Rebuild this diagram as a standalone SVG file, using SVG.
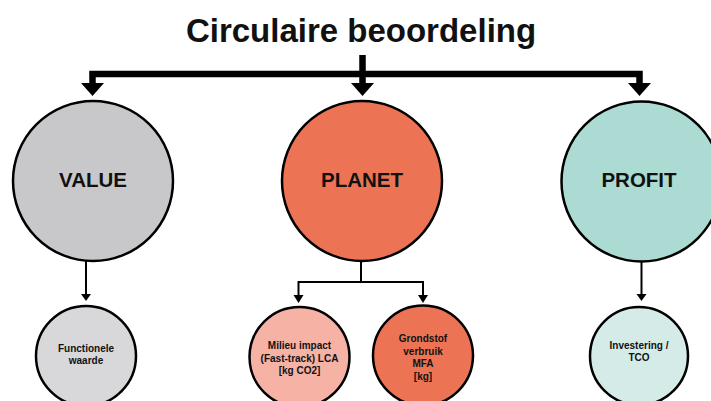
<svg xmlns="http://www.w3.org/2000/svg" width="711" height="401" viewBox="0 0 711 401">
<style>
.t{font-family:"Liberation Sans",Arial,sans-serif;font-weight:bold;fill:#111;text-anchor:middle}
.s{font-size:10px}
.big{stroke:#000;stroke-width:2.5}
.sm{stroke:#000;stroke-width:2.5}
.thick{fill:none;stroke:#000;stroke-width:6.5}
.thin{fill:none;stroke:#000;stroke-width:2}
</style>
<rect width="711" height="401" fill="#fff"/>
<text class="t" x="361" y="42" font-size="33">Circulaire beoordeling</text>
<g id="connectors">
<path class="thick" d="M362.5 55 V86 M92.5 86 V74 H639.5 V86"/>
<polygon points="81,83 104,83 92.5,96"/>
<polygon points="351,83 374,83 362.5,96"/>
<polygon points="628,83 651,83 639.5,96"/>
<path class="thin" d="M86 261 V296"/>
<polygon points="81,294 91,294 86,301"/>
<path class="thin" d="M361 261 V282 M298.5 297 V282 H423 V297"/>
<polygon points="293.5,295 303.5,295 298.5,303"/>
<polygon points="418,295 428,295 423,303"/>
<path class="thin" d="M641.5 261 V296"/>
<polygon points="636.5,294 646.5,294 641.5,301"/>
</g>
<g id="value">
<circle class="big" cx="93" cy="181" r="80" fill="#c8c8ca"/>
<text class="t" x="93" y="187" font-size="20.5">VALUE</text>
</g>
<g id="planet">
<circle class="big" cx="362" cy="181" r="80" fill="#ec7455"/>
<text class="t" x="362" y="187" font-size="20.5">PLANET</text>
</g>
<g id="profit">
<circle class="big" cx="641.5" cy="181.5" r="80" fill="#acdbd3"/>
<text class="t" x="639" y="187" font-size="20.5">PROFIT</text>
</g>
<g id="functionele">
<circle class="sm" cx="86" cy="356" r="50" fill="#d8d8da"/>
<text class="t s" x="86" y="352">Functionele</text>
<text class="t s" x="86" y="364">waarde</text>
</g>
<g id="milieu">
<circle class="sm" cx="299.5" cy="357" r="50" fill="#f5b2a5"/>
<text class="t s" x="299.5" y="349">Milieu impact</text>
<text class="t s" x="299.5" y="361.5">(Fast-track) LCA</text>
<text class="t s" x="299.5" y="374">[kg CO2]</text>
</g>
<g id="grondstof">
<circle class="sm" cx="423" cy="355.5" r="50" fill="#ec7455"/>
<text class="t s" x="423" y="342">Grondstof</text>
<text class="t s" x="423" y="354.5">verbruik</text>
<text class="t s" x="423" y="367">MFA</text>
<text class="t s" x="423" y="379.5">[kg]</text>
</g>
<g id="investering">
<circle class="sm" cx="639" cy="356" r="49" fill="#d5ebe8"/>
<text class="t s" x="639" y="349">Investering /</text>
<text class="t s" x="639" y="361">TCO</text>
</g>
</svg>
